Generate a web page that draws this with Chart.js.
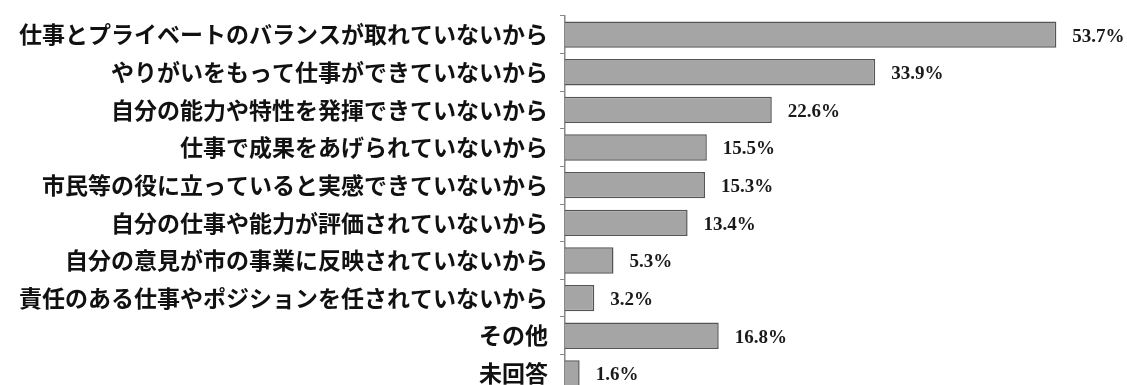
<!DOCTYPE html>
<html lang="ja">
<head>
<meta charset="utf-8">
<script src="https://cdn.jsdelivr.net/npm/chart.js@4/dist/chart.umd.min.js"></script>
<style>
  html, body { margin: 0; padding: 0; background: #fff; overflow: hidden; }
  #wrap { width: 1127px; height: 428px; position: relative; top: -10px; }
</style>
</head>
<body>
<div id="wrap"><canvas id="reasonChart"></canvas></div>
<script>
// 理由ごとの割合 (%)
const categories = [
  '仕事とプライベートのバランスが取れていないから',
  'やりがいをもって仕事ができていないから',
  '自分の能力や特性を発揮できていないから',
  '仕事で成果をあげられていないから',
  '市民等の役に立っていると実感できていないから',
  '自分の仕事や能力が評価されていないから',
  '自分の意見が市の事業に反映されていないから',
  '責任のある仕事やポジションを任されていないから',
  'その他',
  '未回答'
]
const values = [53.7, 33.9, 22.6, 15.5, 15.3, 13.4, 5.3, 3.2, 16.8, 1.6]
const xRange = [0, 60]

// バーの右に値ラベルを描く
const valueLabels = {
  id: 'valueLabels',
  afterDatasetsDraw(chart) {
    const ctx = chart.ctx
    const meta = chart.getDatasetMeta(0)
    ctx.save()
    ctx.font = 'bold 19px "Liberation Serif", "DejaVu Serif", serif'
    ctx.fillStyle = '#1a1a1a'
    ctx.textBaseline = 'middle'
    ctx.textAlign = 'left'
    meta.data.forEach((bar, i) => {
      ctx.fillText(values[i].toFixed(1) + '%', bar.x + 16, bar.y + 2)
    })
    ctx.restore()
  }
}

const ctx = document.getElementById('reasonChart').getContext('2d')
window.reasonChart = new Chart(ctx, {
  type: 'bar',
  data: {
    labels: categories,
    datasets: [{
      data: values,
      backgroundColor: '#a5a5a5',
      borderColor: '#555555',
      borderWidth: 1.5,
      categoryPercentage: 1,
      barPercentage: 0.7
    }]
  },
  options: {
    indexAxis: 'y',
    responsive: true,
    maintainAspectRatio: false,
    animation: false,
    layout: { padding: { top: 15, right: 13, bottom: 0, left: 0 } },
    plugins: {
      legend: { display: false },
      tooltip: { enabled: false }
    },
    scales: {
      x: { display: false, min: xRange[0], max: xRange[1] },
      y: {
        afterFit(scale) { scale.width = 565 },
        grid: {
          offset: true,
          drawOnChartArea: false,
          tickLength: 5,
          color: '#888888'
        },
        border: { color: '#888888', width: 1.5 },
        ticks: {
          color: '#111111',
          padding: 12,
          font: { family: '"Noto Sans CJK JP", sans-serif', size: 23, weight: 'bold' }
        }
      }
    }
  },
  plugins: [valueLabels]
})
</script>
</body>
</html>
